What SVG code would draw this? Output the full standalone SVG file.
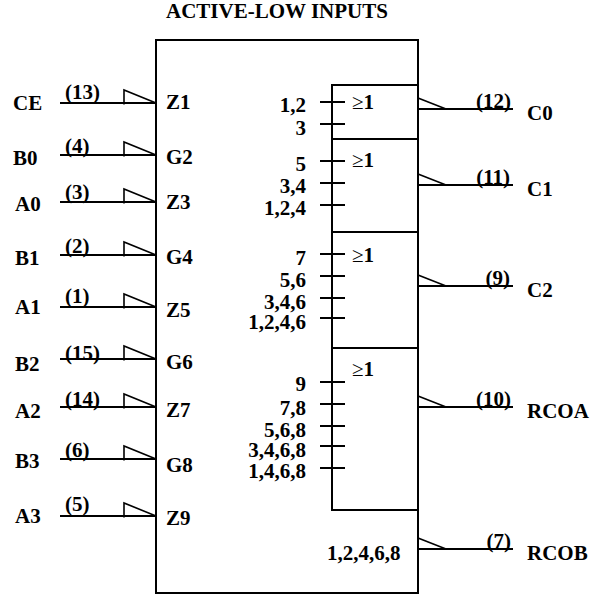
<svg xmlns="http://www.w3.org/2000/svg" width="600" height="594" viewBox="0 0 600 594">
<style>
.l{fill:none;stroke:#000;stroke-width:2}
.s{fill:none;stroke:#000;stroke-width:1.6}
.b{fill:none;stroke:#000;stroke-width:2}
text{font-family:"Liberation Serif","Times New Roman",serif;font-weight:bold;font-size:21px;fill:#000}
.e{text-anchor:end}
.n{font-weight:normal}
</style>
<defs>
<g id="in"><path class="l" d="M60 0H156"/><path class="s" d="M124 1.500V-13L156 0"/></g>
<g id="out"><path class="l" d="M418 0H513"/><path class="s" d="M418 -11L446 0"/></g>
<path id="t" class="l" d="M320 0H345"/>
</defs>
<g id="title"><text x="166" y="18">ACTIVE-LOW INPUTS</text></g>
<g id="block">
<rect class="b" x="156" y="40" width="262" height="553"/>
<path class="b" d="M418 85H332V510H418M332 139H418M332 232H418M332 348H418"/>
<text x="352" y="109"><tspan class="n">≥</tspan>1</text><text x="352" y="167"><tspan class="n">≥</tspan>1</text><text x="352" y="262"><tspan class="n">≥</tspan>1</text><text x="352" y="376"><tspan class="n">≥</tspan>1</text>
<text x="327" y="560">1,2,4,6,8</text>
</g>
<g id="connectors">
<use href="#in" y="103"/><use href="#in" y="155"/><use href="#in" y="202"/><use href="#in" y="255"/><use href="#in" y="307"/><use href="#in" y="359"/><use href="#in" y="407"/><use href="#in" y="459"/><use href="#in" y="516"/>
<use href="#out" y="109"/><use href="#out" y="185"/><use href="#out" y="286"/><use href="#out" y="407"/><use href="#out" y="549"/>
<use href="#t" y="102"/><use href="#t" y="124"/><use href="#t" y="161"/><use href="#t" y="183"/><use href="#t" y="205"/><use href="#t" y="254"/><use href="#t" y="276"/><use href="#t" y="298"/><use href="#t" y="318"/><use href="#t" y="382"/><use href="#t" y="404"/><use href="#t" y="426"/><use href="#t" y="446"/><use href="#t" y="468"/>
</g>
<g id="input-names">
<text x="13" y="110">CE</text><text x="13" y="165">B0</text><text x="15" y="211">A0</text><text x="15" y="265">B1</text><text x="15" y="314">A1</text><text x="15" y="371">B2</text><text x="15" y="418">A2</text><text x="15" y="468">B3</text><text x="15" y="523">A3</text>
</g>
<g id="pins-in">
<text x="65" y="99">(13)</text><text x="65" y="153">(4)</text><text x="65" y="199">(3)</text><text x="65" y="253">(2)</text><text x="65" y="303">(1)</text><text x="65" y="360">(15)</text><text x="65" y="406">(14)</text><text x="65" y="457">(6)</text><text x="65" y="511">(5)</text>
</g>
<g id="inner-in">
<text x="166" y="109">Z1</text><text x="166" y="164">G2</text><text x="166" y="209">Z3</text><text x="166" y="264">G4</text><text x="166" y="317">Z5</text><text x="166" y="369">G6</text><text x="166" y="417">Z7</text><text x="166" y="472">G8</text><text x="166" y="525">Z9</text>
</g>
<g id="tick-labels">
<text class="e" x="306" y="112">1,2</text><text class="e" x="306" y="135">3</text><text class="e" x="306" y="171">5</text><text class="e" x="306" y="193">3,4</text><text class="e" x="306" y="215">1,2,4</text><text class="e" x="306" y="265">7</text><text class="e" x="306" y="287">5,6</text><text class="e" x="306" y="309">3,4,6</text><text class="e" x="306" y="329">1,2,4,6</text><text class="e" x="306" y="391">9</text><text class="e" x="306" y="415">7,8</text><text class="e" x="306" y="437">5,6,8</text><text class="e" x="306" y="457">3,4,6,8</text><text class="e" x="306" y="478">1,4,6,8</text>
</g>
<g id="pins-out">
<text class="e" x="511" y="108">(12)</text><text class="e" x="510" y="184">(11)</text><text class="e" x="510" y="285">(9)</text><text class="e" x="511" y="406">(10)</text><text class="e" x="511" y="548">(7)</text>
</g>
<g id="output-names">
<text x="527" y="120">C0</text><text x="527" y="196">C1</text><text x="527" y="297">C2</text><text x="527" y="418">RCOA</text><text x="527" y="560">RCOB</text>
</g>
</svg>
